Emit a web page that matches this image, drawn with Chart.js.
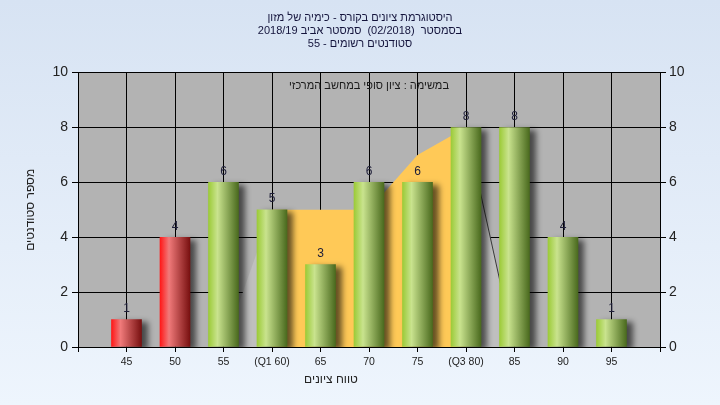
<!DOCTYPE html>
<html>
<head>
<meta charset="utf-8">
<script src="https://cdn.jsdelivr.net/npm/chart.js@4"></script>
<style>
  html, body { margin: 0; padding: 0; }
  body { width: 720px; height: 405px; background: linear-gradient(#d7e3f3, #eef5fd); }
  canvas { display: block; }
</style>
</head>
<body>
<canvas id="GradeChart" width="720" height="405"></canvas>
<script>
// grade ranges and number of students in each
var categories = ['45', '50', '55', '(Q1 60)', '65', '70', '75', '(Q3 80)', '85', '90', '95'];
var grades = [45, 50, 55, 60, 65, 70, 75, 80, 85, 90, 95];
var students = [1, 4, 6, 5, 3, 6, 6, 8, 8, 4, 1];
var passGrade = 55;

// distribution outline behind the bars (quartile band + tails)
var bandGrades = [60, 65, 70, 75, 80];
var bandValues = [5, 5, 5, 7, 8];
var leftTailGrades = [55, 60];
var leftTailValues = [0, 5];
var rightTailGrades = [80, 85];
var rightTailValues = [8, 0];

var titleLines = [
  'היסטוגרמת ציונים בקורס - כימיה של מזון',
  'בסמסטר  (02/2018)  סמסטר אביב 2018/19',
  'סטודנטים רשומים - 55'
];
var noteText = 'במשימה : ציון סופי במחשב המרכזי';
var xTitle = 'טווח ציונים';
var yTitle = 'מספר סטודנטים';

function points(xs, ys) {
  return xs.map(function (x, i) { return { x: x, y: ys[i] }; });
}

var FONT = 'Liberation Sans';

// cylinder look for a bar
function barGradient(ctx, bar, grade) {
  var half = bar.width / 2;
  var g = ctx.createLinearGradient(bar.x - half, 0, bar.x + half, 0);
  if (grade < passGrade) {
    g.addColorStop(0, '#ff1818');
    g.addColorStop(0.3, '#f07a7a');
    g.addColorStop(1, '#781010');
  } else {
    g.addColorStop(0, '#9ccb38');
    g.addColorStop(0.3, '#c9e38e');
    g.addColorStop(1, '#4a6a1e');
  }
  return g;
}

var extras = {
  id: 'extras',
  beforeDraw: function (chart) {
    var a = chart.chartArea;
    var ctx = chart.ctx;
    ctx.save();
    ctx.fillStyle = '#b3b3b3';
    ctx.fillRect(a.left, a.top, a.right - a.left, a.bottom - a.top);
    ctx.restore();
  },
  beforeDatasetDraw: function (chart, args) {
    if (args.index !== 0) return;
    var ctx = chart.ctx;
    args.meta.data.forEach(function (bar, i) {
      var opts = Object.assign({}, bar.options);
      opts.backgroundColor = barGradient(ctx, bar, grades[i]);
      bar.options = opts;
    });
    ctx.save();
    ctx.shadowColor = 'rgba(0,0,0,0.6)';
    ctx.shadowBlur = 6;
    ctx.shadowOffsetX = 6;
    ctx.shadowOffsetY = 3;
  },
  afterDatasetDraw: function (chart, args) {
    if (args.index !== 0) return;
    chart.ctx.restore();
  },
  afterDatasetsDraw: function (chart) {
    var ctx = chart.ctx;
    var meta = chart.getDatasetMeta(0);
    ctx.save();
    ctx.font = '12px ' + FONT;
    ctx.fillStyle = '#20203a';
    ctx.textAlign = 'center';
    ctx.textBaseline = 'bottom';
    meta.data.forEach(function (bar, i) {
      ctx.fillText(String(students[i]), bar.x, bar.y - 5);
    });
    var a = chart.chartArea;
    ctx.textBaseline = 'middle';
    ctx.font = '11px ' + FONT;
    ctx.fillStyle = '#1a1a1a';
    ctx.fillText(noteText, (a.left + a.right) / 2, 86);
    ctx.font = '12px ' + FONT;
    ctx.fillStyle = '#222';
    ctx.fillText(xTitle, 331, 380);
    ctx.restore();
  }
};

var ctx = document.getElementById('GradeChart').getContext('2d');
var gradeChart = new Chart(ctx, {
  type: 'bar',
  data: {
    datasets: [{
      label: 'students',
      data: points(grades, students),
      backgroundColor: '#9ccb38',
      borderWidth: 0,
      barThickness: 30,
      order: 0
    }, {
      type: 'line',
      label: 'band',
      data: points(bandGrades, bandValues),
      borderWidth: 0,
      pointRadius: 0,
      fill: 'origin',
      backgroundColor: '#ffc957',
      tension: 0,
      order: 1
    }, {
      type: 'line',
      label: 'left tail',
      data: points(leftTailGrades, leftTailValues),
      borderWidth: 0,
      pointRadius: 0,
      fill: 'origin',
      backgroundColor: '#bfbfbf',
      tension: 0,
      order: 2
    }, {
      type: 'line',
      label: 'right tail',
      data: points(rightTailGrades, rightTailValues),
      borderWidth: 1,
      borderColor: '#3a3a3a',
      pointRadius: 0,
      fill: 'origin',
      backgroundColor: '#bfbfbf',
      tension: 0,
      order: 3
    }]
  },
  options: {
    responsive: false,
    animation: false,
    devicePixelRatio: 1,
    layout: { padding: { left: 0, right: 0, top: 0, bottom: 0 } },
    plugins: {
      legend: { display: false },
      tooltip: { enabled: false },
      title: {
        display: true,
        text: titleLines,
        color: '#14143c',
        font: { family: FONT, size: 11, weight: 'normal', lineHeight: 1.2 },
        padding: { top: 11, bottom: 22 }
      }
    },
    scales: {
      x: {
        type: 'linear',
        min: 40,
        max: 100,
        offset: false,
        grid: { color: '#000', lineWidth: 1, offset: false, tickLength: 5 },
        border: { color: '#000' },
        ticks: {
          stepSize: 5,
          autoSkip: false,
          maxRotation: 0,
          padding: 4,
          color: '#222',
          font: { family: FONT, size: 10.5 },
          callback: function (value) {
            var i = grades.indexOf(value);
            return i >= 0 ? categories[i] : '';
          }
        },
        afterFit: function (scale) { scale.height = 58; }
      },
      y: {
        position: 'left',
        min: 0,
        max: 10,
        grid: { color: '#000', lineWidth: 1, tickLength: 6 },
        border: { color: '#000' },
        ticks: { stepSize: 2, padding: 4, color: '#222', font: { family: FONT, size: 14 } },
        title: {
          display: true,
          text: yTitle,
          color: '#222',
          font: { family: FONT, size: 12 },
          padding: { top: 23, bottom: 0 }
        },
        afterFit: function (scale) { scale.width = 78; }
      },
      y2: {
        position: 'right',
        min: 0,
        max: 10,
        grid: { drawOnChartArea: false, color: '#000', tickLength: 6 },
        border: { color: '#000' },
        ticks: { stepSize: 2, padding: 3, color: '#222', font: { family: FONT, size: 14 } },
        afterFit: function (scale) { scale.width = 60; }
      }
    }
  },
  plugins: [extras]
});
</script>
</body>
</html>
